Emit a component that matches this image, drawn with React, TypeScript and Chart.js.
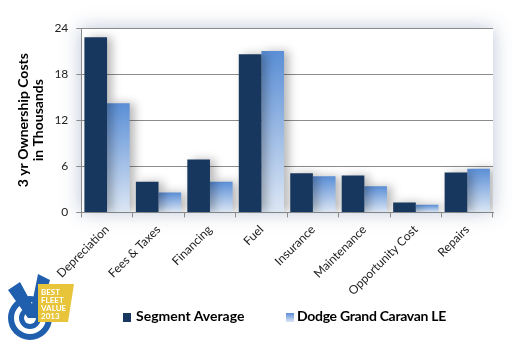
import React, { useEffect, useRef } from "react";
import { Chart, registerables } from "chart.js";

Chart.register(...registerables);

const categories = [
  "Depreciation",
  "Fees & Taxes",
  "Financing",
  "Fuel",
  "Insurance",
  "Maintenance",
  "Opportunity Cost",
  "Repairs",
];
const segmentAverage = [22.8, 4.0, 6.9, 20.6, 5.1, 4.8, 1.3, 5.2];
const dodgeGrandCaravan = [14.2, 2.6, 4.0, 21.0, 4.7, 3.4, 1.0, 5.7];
const yTicks = [0, 6, 12, 18, 24];
const seriesNames = ["Segment Average", "Dodge Grand Caravan LE"];
const yTitle = ["3 yr Ownership Costs", "in Thousands"];
const logoText = ["BEST", "FLEET", "VALUE", "2013"];

const FONT = "Lato, 'Open Sans', sans-serif";
const DARK = "#17375E";
const LIGHT_TOP = "#5A8ED6";
const LIGHT_BOTTOM = "#DDE7F4";

const glowPlugin = {
  id: "glow",
  beforeDraw(chart: any) {
    const { ctx, chartArea } = chart;
    if (!chartArea) return;
    ctx.save();
    ctx.shadowColor = "rgba(60,90,140,0.35)";
    ctx.shadowBlur = 18;
    ctx.fillStyle = "#ffffff";
    ctx.fillRect(chartArea.left, chartArea.top, chartArea.right - chartArea.left, chartArea.bottom - chartArea.top);
    ctx.restore();
  },
  beforeDatasetsDraw(chart: any) {
    const ctx = chart.ctx;
    ctx.save();
    ctx.shadowColor = "rgba(0,0,0,0.28)";
    ctx.shadowBlur = 10;
    ctx.shadowOffsetX = 5;
    ctx.shadowOffsetY = 0;
  },
  afterDatasetsDraw(chart: any) {
    chart.ctx.restore();
  },
};

const logoPlugin = {
  id: "logo",
  afterDraw(chart: any) {
    const ctx = chart.ctx;
    ctx.save();
    const blue = "#1F5FAE";
    const cx = 30, cy = 318;
    ctx.fillStyle = blue;
    ctx.beginPath(); ctx.arc(cx, cy, 22, 0, Math.PI * 2); ctx.fill();
    ctx.fillStyle = "#ffffff";
    ctx.beginPath(); ctx.arc(cx, cy, 16, 0, Math.PI * 2); ctx.fill();
    ctx.fillStyle = blue;
    ctx.beginPath(); ctx.arc(cx, cy, 11, 0, Math.PI * 2); ctx.fill();
    ctx.fillStyle = "#ffffff";
    ctx.beginPath(); ctx.arc(cx, cy, 6, 0, Math.PI * 2); ctx.fill();
    ctx.fillStyle = blue;
    ctx.beginPath();
    ctx.moveTo(8, 290);
    ctx.lineTo(20, 282);
    ctx.lineTo(32, 304);
    ctx.lineTo(38, 274);
    ctx.lineTo(50, 280);
    ctx.lineTo(38, 318);
    ctx.lineTo(28, 318);
    ctx.closePath();
    ctx.fill();
    ctx.fillStyle = "#E8C43A";
    ctx.beginPath();
    ctx.moveTo(38, 284);
    ctx.lineTo(74, 284);
    ctx.lineTo(68, 322);
    ctx.lineTo(38, 322);
    ctx.closePath();
    ctx.fill();
    ctx.fillStyle = "#ffffff";
    ctx.font = "bold 8px " + FONT;
    ctx.textAlign = "left";
    ctx.textBaseline = "top";
    logoText.forEach((t, i) => ctx.fillText(t, 41, 288 + i * 8));
    ctx.restore();
  },
};

export default function App() {
  const ref = useRef<HTMLCanvasElement | null>(null);

  useEffect(() => {
    document.body.style.margin = "0";
    const canvas = ref.current;
    if (!canvas) return;
    const lightGradient = (c: any) => {
      const chart = c.chart;
      const { chartArea, scales } = chart;
      if (!chartArea || c.raw === undefined || !scales.y) return LIGHT_TOP;
      const top = scales.y.getPixelForValue(c.raw);
      const bottom = scales.y.getPixelForValue(0);
      const g = chart.ctx.createLinearGradient(0, top, 0, bottom);
      g.addColorStop(0, LIGHT_TOP);
      g.addColorStop(1, LIGHT_BOTTOM);
      return g;
    };
    const chart = new Chart(canvas, {
      type: "bar",
      data: {
        labels: categories,
        datasets: [
          { label: seriesNames[0], data: segmentAverage, backgroundColor: DARK, borderWidth: 0 },
          { label: seriesNames[1], data: dodgeGrandCaravan, backgroundColor: lightGradient, borderWidth: 0 },
        ],
      },
      options: {
        animation: false,
        responsive: false,
        layout: { padding: { left: 16, top: 28, right: 19, bottom: 48 } },
        plugins: { legend: { display: false }, tooltip: { enabled: false } },
        datasets: { bar: { categoryPercentage: 0.88, barPercentage: 1 } },
        scales: {
          x: {
            grid: { offset: true, drawOnChartArea: false, color: "#8c8c8c", tickLength: 5 },
            border: { color: "#8c8c8c" },
            ticks: {
              minRotation: 45,
              maxRotation: 45,
              color: "#222",
              font: { family: FONT, size: 12 },
              padding: 5,
            },
          },
          y: {
            min: 0,
            max: 24,
            afterBuildTicks: (axis: any) => {
              axis.ticks = yTicks.map((v) => ({ value: v }));
            },
            grid: { color: "#8c8c8c", drawTicks: true, tickLength: 5 },
            border: { color: "#8c8c8c" },
            ticks: { color: "#222", font: { family: FONT, size: 12 }, padding: 8 },
            title: {
              display: true,
              text: yTitle,
              color: "#000",
              font: { family: FONT, size: 14, weight: "bold", lineHeight: 1.05 },
              padding: { top: 0, bottom: 1 },
            },
          },
        },
      },
      plugins: [glowPlugin, logoPlugin],
    });
    return () => chart.destroy();
  }, []);

  const legendText: React.CSSProperties = {
    position: "absolute",
    top: 307,
    fontFamily: FONT,
    fontWeight: "bold",
    fontSize: 14,
    color: "#000",
    whiteSpace: "nowrap",
  };
  const sq: React.CSSProperties = { position: "absolute", top: 313, width: 8, height: 9 };

  return (
    <div style={{ position: "relative", width: 512, height: 351, background: "#fff" }}>
      <canvas ref={ref} width={512} height={351} style={{ display: "block" }} />
      <div style={{ ...sq, left: 123, background: DARK }} />
      <div style={{ ...legendText, left: 136 }}>{seriesNames[0]}</div>
      <div style={{ ...sq, left: 286, background: `linear-gradient(${LIGHT_TOP}, ${LIGHT_BOTTOM})` }} />
      <div style={{ ...legendText, left: 297, letterSpacing: -0.3 }}>{seriesNames[1]}</div>
    </div>
  );
}
